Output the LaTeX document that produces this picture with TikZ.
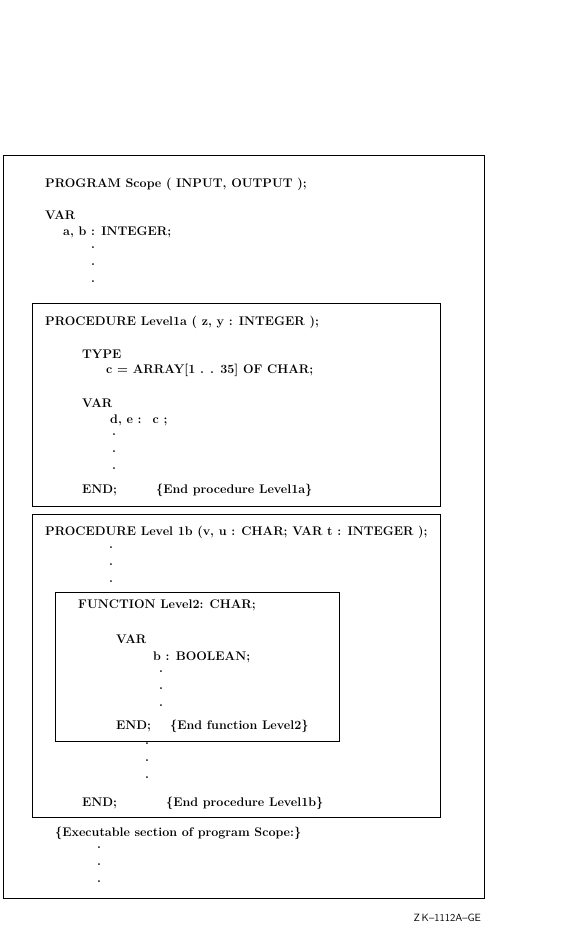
\documentclass[tikz,border=0pt]{standalone}
\usepackage{tikz}
\usetikzlibrary{positioning}

\begin{document}
\begin{tikzpicture}[
    x=1pt, y=-1pt,
    frame/.style={draw=black, line width=0.8pt},
    code/.style={anchor=west, inner sep=0pt, font=\fontsize{12.5}{14}\selectfont\bfseries},
    dot/.style={anchor=center, inner sep=0pt, font=\fontsize{12.5}{14}\selectfont\bfseries},
    tag/.style={anchor=east, inner sep=0pt, font=\fontsize{10.5}{12}\selectfont\sffamily}
]
\useasboundingbox (0,0) rectangle (586,929);

% Frames
\draw[frame] (3,155) rectangle (484,898);
\draw[frame] (32,303) rectangle (440,506);
\draw[frame] (32,514) rectangle (440,817);
\draw[frame] (55,592) rectangle (339,741);

% Program header
\node[code] (prog) at (45,184) {PROGRAM Scope ( INPUT, OUTPUT );};
\node[code] (var0) at (45,215) {VAR};
\node[code] (ab) at (63,232) {a, b : INTEGER;};
\foreach \y [count=\i] in {248,265,282}
  \node[dot] (d0\i) at (93,\y) {.};

% Level1a
\node[code] (proca) at (45,322) {PROCEDURE Level1a ( z, y : INTEGER );};
\node[code] (type) at (82,354) {TYPE};
\node[code] (arr) at (106,370) {c = ARRAY[1 . . 35] OF CHAR;};
\node[code] (vara) at (82,403) {VAR};
\node[code] (de) at (110,420) {d, e : \ c ;};
\foreach \y [count=\i] in {435,452,469}
  \node[dot] (da\i) at (114,\y) {.};
\node[code] (enda) at (82,490) {END;};
\node[code] (cmta) at (156,490) {\{End procedure Level1a\}};

% Level1b
\node[code] (procb) at (45,532) {PROCEDURE Level 1b (v, u : CHAR; VAR t : INTEGER );};
\foreach \y [count=\i] in {548,565,582}
  \node[dot] (db\i) at (111,\y) {.};

% Level2
\node[code] (func) at (78,605) {FUNCTION Level2: CHAR;};
\node[code] (varf) at (116,639) {VAR};
\node[code] (bb) at (153,657) {b : BOOLEAN;};
\foreach \y [count=\i] in {672,689,706}
  \node[dot] (df\i) at (161,\y) {.};
\node[code] (endf) at (116,726) {END;};
\node[code] (cmtf) at (170,726) {\{End function Level2\}};

\foreach \y [count=\i] in {744,761,778}
  \node[dot] (dc\i) at (147,\y) {.};
\node[code] (endb) at (82,803) {END;};
\node[code] (cmtb) at (166,803) {\{End procedure Level1b\}};

% Executable section
\node[code] (exec) at (55,833) {\{Executable section of program Scope:\}};
\foreach \y [count=\i] in {848,865,882}
  \node[dot] (dx\i) at (99,\y) {.};

% Figure tag
\node[tag] (zk) at (481,918) {Z\,K--1112A--GE};

\end{tikzpicture}
\end{document}
